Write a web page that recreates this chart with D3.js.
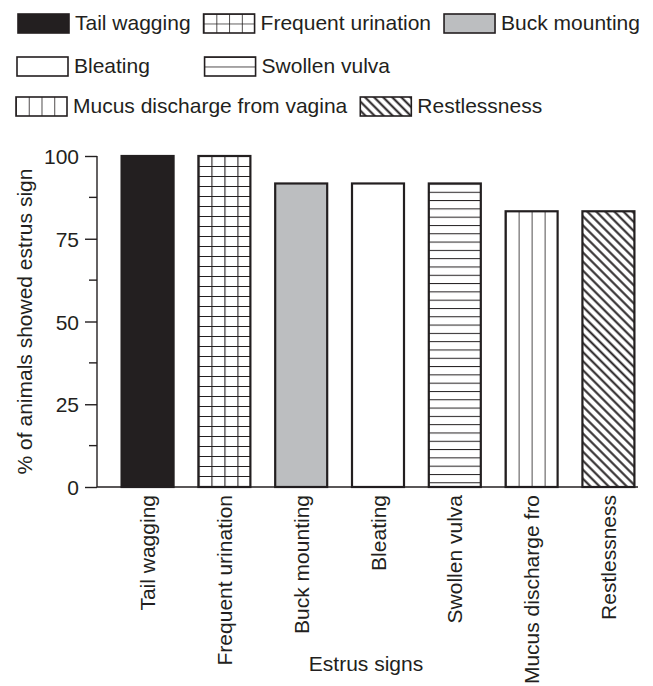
<!DOCTYPE html>
<html>
<head>
<meta charset="utf-8">
<script src="https://cdn.jsdelivr.net/npm/d3@7"></script>
<style>
  html, body { margin: 0; padding: 0; background: #fff; }
  svg { display: block; }
  text { font-family: Arial, "Liberation Sans", Helvetica, sans-serif; fill: #231f20; }
</style>
</head>
<body>
<svg id="chart" width="653" height="686"></svg>
<script>
// ---- data ----
const categories = ["Tail wagging", "Frequent urination", "Buck mounting", "Bleating", "Swollen vulva", "Mucus discharge from vagina", "Restlessness"];
const tickLabels = ["Tail wagging", "Frequent urination", "Buck mounting", "Bleating", "Swollen vulva", "Mucus discharge fro", "Restlessness"];
const values = [100, 100, 91.7, 91.7, 91.7, 83.3, 83.3];
const fills = ["solid", "grid", "gray", "white", "hlines", "vlines", "diag"];
const yTicks = [0, 25, 50, 75, 100];
const yMinorTicks = [12.5, 37.5, 62.5, 87.5];
const yLabel = "% of animals showed estrus sign";
const xLabel = "Estrus signs";
const legendRows = [[0, 1, 2], [3, 4], [5, 6]];

const INK = "#231f20";
const GRAY = "#bcbec0";
const FONT = 21;

const svg = d3.select("#chart");
const defs = svg.append("defs");

const x = d3.scaleBand().domain(categories).range([97, 659]).paddingInner(0.323).paddingOuter(0.32);
const y = d3.scaleLinear().domain([0, 100]).range([487, 156]);

let pid = 0;
function makeFill(type, rx, ry, w, h, isLegend) {
  if (type === "solid") return INK;
  if (type === "gray") return GRAY;
  if (type === "white") return "#fff";
  const id = "p" + (pid++);
  const p = defs.append("pattern").attr("id", id).attr("patternUnits", "userSpaceOnUse");
  if (type === "grid") {
    const cw = w / 4, ch = isLegend ? h / 2 : 10;
    p.attr("x", rx).attr("y", ry).attr("width", cw).attr("height", ch);
    p.append("rect").attr("width", cw).attr("height", ch).attr("fill", "#fff");
    p.append("path").attr("d", `M0,0H${cw}M0,0V${ch}`).attr("stroke", INK).attr("stroke-width", isLegend ? 1.6 : 2.2).attr("fill", "none");
  } else if (type === "hlines") {
    const ch = isLegend ? h / 2 : 8.3;
    p.attr("x", rx).attr("y", ry).attr("width", 10).attr("height", ch);
    p.append("rect").attr("width", 10).attr("height", ch).attr("fill", "#fff");
    p.append("path").attr("d", `M0,0H10`).attr("stroke", INK).attr("stroke-width", isLegend ? 1.6 : 2).attr("fill", "none");
  } else if (type === "vlines") {
    const cw = w / 4;
    p.attr("x", rx).attr("y", ry).attr("width", cw).attr("height", 10);
    p.append("rect").attr("width", cw).attr("height", 10).attr("fill", "#fff");
    p.append("path").attr("d", `M0,0V10`).attr("stroke", INK).attr("stroke-width", 1.6).attr("fill", "none");
  } else if (type === "diag") {
    const s = 6.4;
    p.attr("x", rx).attr("y", ry).attr("width", s).attr("height", 10)
      .attr("patternTransform", `rotate(-45 ${rx} ${ry})`);
    p.append("rect").attr("width", s).attr("height", 10).attr("fill", "#fff");
    p.append("path").attr("d", `M${s/2},0V10`).attr("stroke", INK).attr("stroke-width", 2).attr("fill", "none");
  }
  return `url(#${id})`;
}

// ---- bars ----
const bw = x.bandwidth();
svg.append("g").selectAll("rect").data(categories).join("rect")
  .attr("x", d => x(d))
  .attr("y", (d, i) => y(values[i]))
  .attr("width", bw)
  .attr("height", (d, i) => y(0) - y(values[i]))
  .attr("fill", (d, i) => makeFill(fills[i], x(d), y(values[i]), bw, y(0) - y(values[i]), false))
  .attr("stroke", INK)
  .attr("stroke-width", 2.2);

// ---- y axis ----
const yAxis = svg.append("g").attr("transform", "translate(97,0)");
yAxis.call(d3.axisLeft(y).tickValues(yTicks).tickSize(12).tickPadding(6).tickFormat(d3.format("d")));
yAxis.selectAll(".tick text").attr("font-size", FONT).attr("font-family", null).style("fill", INK).attr("dy", "0.36em");
yAxis.selectAll("line, path").attr("stroke", INK).attr("stroke-width", 1.4);
yAxis.select(".domain").attr("d", `M0,${y(100)}V${y(0)}`);
yAxis.selectAll(".minor").data(yMinorTicks).join("line")
  .attr("class", "minor")
  .attr("x1", -8).attr("x2", 0)
  .attr("y1", d => y(d)).attr("y2", d => y(d))
  .attr("stroke", INK).attr("stroke-width", 1.4);

// ---- x axis ----
const xAxis = svg.append("g").attr("transform", `translate(0,${y(0)})`);
xAxis.call(d3.axisBottom(x).tickSize(0).tickPadding(0).tickFormat((d, i) => tickLabels[i]));
xAxis.select(".domain").attr("d", `M97,0H638`).attr("stroke", INK).attr("stroke-width", 1.4);
xAxis.selectAll(".tick text")
  .attr("font-size", FONT).attr("font-family", null).style("fill", INK)
  .attr("text-anchor", "end")
  .attr("transform", "rotate(-90)")
  .attr("x", -8).attr("y", 0).attr("dy", "0.36em");

// ---- axis titles ----
svg.append("text")
  .attr("transform", `translate(32,${(y(0) + y(100)) / 2}) rotate(-90)`)
  .attr("text-anchor", "middle").attr("font-size", FONT)
  .text(yLabel);
svg.append("text")
  .attr("x", 366).attr("y", 671)
  .attr("text-anchor", "middle").attr("font-size", FONT)
  .text(xLabel);

// ---- legend ----
const legend = svg.append("g");
const SW = 51, SH = 19, GAP_T = 6, GAP_I = 13;
const rowY = [14, 57, 97];
const rowX0 = [18, 17, 16];
let colX = [];
legendRows.forEach((row, r) => {
  let cx = rowX0[r];
  row.forEach((idx, k) => {
    if (r === 1 && colX[k] !== undefined) cx = colX[k] + (k === 0 ? -1 : 1);
    const g = legend.append("g");
    g.append("rect")
      .attr("x", cx).attr("y", rowY[r]).attr("width", SW).attr("height", SH)
      .attr("fill", makeFill(fills[idx], cx, rowY[r], SW, SH, true))
      .attr("stroke", INK).attr("stroke-width", 1.6);
    const t = g.append("text")
      .attr("x", cx + SW + GAP_T).attr("y", rowY[r] + SH / 2 + 6.5)
      .attr("font-size", FONT)
      .text(categories[idx]);
    if (r === 0) colX[k] = cx;
    cx = cx + SW + GAP_T + t.node().getComputedTextLength() + GAP_I;
  });
});
</script>
</body>
</html>
